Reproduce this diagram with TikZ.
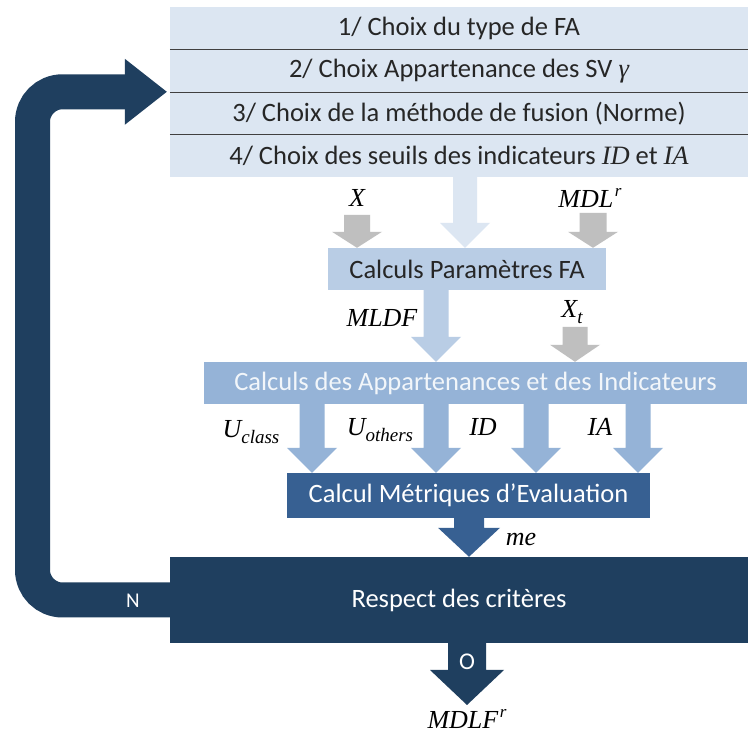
\documentclass[tikz,border=0pt]{standalone}
\usepackage{fontspec}
\setmainfont{Carlito}
\newfontfamily\mfont{Liberation Serif}
\usetikzlibrary{calc}
\definecolor{cA}{HTML}{DCE6F2}
\definecolor{cB}{HTML}{B9CDE5}
\definecolor{cC}{HTML}{95B3D7}
\definecolor{cD}{HTML}{376092}
\definecolor{cE}{HTML}{1F3F5F}
\definecolor{cG}{HTML}{BFBFBF}
\definecolor{cSep}{HTML}{404040}
\definecolor{cTxt}{HTML}{262626}
\newcommand\mt[1]{{\fontsize{26.5}{30}\selectfont\mfont\itshape #1}}
\newcommand\supr{\kern1.5pt\raisebox{.42em}{\fontsize{17}{17}\selectfont r}}
\newcommand\subs[1]{\raisebox{-.22em}{\fontsize{19}{19}\selectfont #1}}
% #1 colour, #2 x, #3 start, #4 end, #5 shaft half, #6 head half, #7 head length
\newcommand\varrow[7]{\fill[#1] let \p1=(#3), \p2=(#4) in
  (#2-#5,\y1) -- (#2-#5,\y2+#7) -- (#2-#6,\y2+#7) -- (#2,\y2) --
  (#2+#6,\y2+#7) -- (#2+#5,\y2+#7) -- (#2+#5,\y1) -- cycle;}
\tikzset{
  box/.style={rectangle, inner sep=0pt, font=\fontsize{26.5}{30}\selectfont},
  rowbox/.style={box, fill=cA, text=cTxt, minimum width=578pt, minimum height=42.5pt},
  ml/.style={inner sep=0pt, font=\fontsize{26}{30}\selectfont\mfont\itshape, text=black},
  sepline/.style={draw=cSep, line width=1.3pt},
}
\begin{document}
\begin{tikzpicture}[x=1pt,y=1pt]
\fill[white] (0,0) rectangle (748,735);
\useasboundingbox (0,0) rectangle (748,735);
% top box rows
\node[rowbox] (r1) at (459,706.75) {1/ Choix du type de FA};
\node[rowbox] (r2) at (459,664.25) {2/ Choix Appartenance des SV \mt{γ}};
\node[rowbox] (r3) at (459,621.75) {3/ Choix de la méthode de fusion (Norme)};
\node[rowbox] (r4) at (459,579.25) {4/ Choix des seuils des indicateurs \mt{ID} et \mt{IA}};
\draw[sepline] (r1.south west) -- (r1.south east);
\draw[sepline] (r2.south west) -- (r2.south east);
\draw[sepline] (r3.south west) -- (r3.south east);
% boxes
\node[box, fill=cB, text=cTxt, minimum width=278pt, minimum height=42pt] (cp) at (467,466) {Calculs Paramètres FA};
\node[box, fill=cC, text=white!88!cC, minimum width=543pt, minimum height=42pt] (app) at (475.5,352) {Calculs des Appartenances et des Indicateurs};
\node[box, fill=cD, text=white, minimum width=363pt, minimum height=45pt] (cm) at (468.5,239.5) {Calcul Métriques d’Evaluation};
\node[box, fill=cE, text=white, minimum width=578pt, minimum height=86pt] (rc) at (459,135) {Respect des critères};
% free ends
\coordinate (gx) at (357,520);
\coordinate (gm) at (593,522);
\coordinate (gt) at (575,408);
\coordinate (tipO) at (467,30);
% arrows
\varrow{cA}{465}{r4.south}{cp.north}{12}{25}{25}
\varrow{cG}{357}{gx}{cp.north}{13}{25}{16}
\varrow{cG}{593}{gm}{cp.north}{13.5}{25}{16}
\varrow{cB}{436}{cp.south}{app.north}{12.5}{25}{25}
\varrow{cG}{575}{gt}{app.north}{12.5}{25}{17}
\varrow{cC}{312}{app.south}{cm.north}{12.5}{25}{25}
\varrow{cC}{436}{app.south}{cm.north}{12.5}{25}{25}
\varrow{cC}{536}{app.south}{cm.north}{12.5}{25}{25}
\varrow{cC}{638}{app.south}{cm.north}{12.5}{25}{25}
\varrow{cD}{469}{cm.south}{rc.north}{15}{31}{29}
\varrow{cE}{467}{rc.south}{tipO}{19}{37}{35}
% loop back
\draw[cE, line width=35pt, rounded corners=30pt] let \p1=(rc.west), \p2=(r3.north west) in
  (\x1+5,\y1) -- (32.5,\y1) -- (32.5,\y2) -- (\x2-43,\y2);
\fill[cE] let \p2=(r3.north west) in (\x2-45,\y2+33) -- (\x2-3,\y2) -- (\x2-45,\y2-33) -- cycle;
% labels
\node[ml] (lx) at (357,537) {X};
\node[ml] (lmdl) at (590,537) {MDL\supr};
\node[ml] (lmldf) at (382,417) {MLDF};
\node[ml] (lxt) at (572,423) {X\subs{t}};
\node[ml] (luc) at (251,303) {U\subs{class}};
\node[ml] (luo) at (380,305) {U\subs{others}};
\node[ml] (lid) at (483,308) {ID};
\node[ml] (lia) at (600,308) {IA};
\node[ml] (lme) at (521,195) {me};
\node[inner sep=0pt, text=white, font=\fontsize{21}{24}\selectfont] (ln) at (133,134) {N};
\node[inner sep=0pt, text=white, font=\fontsize{24}{28}\selectfont] (lo) at (467,73) {O};
\node[ml] (lmdlf) at (467,16) {MDLF\supr};
\end{tikzpicture}
\end{document}
